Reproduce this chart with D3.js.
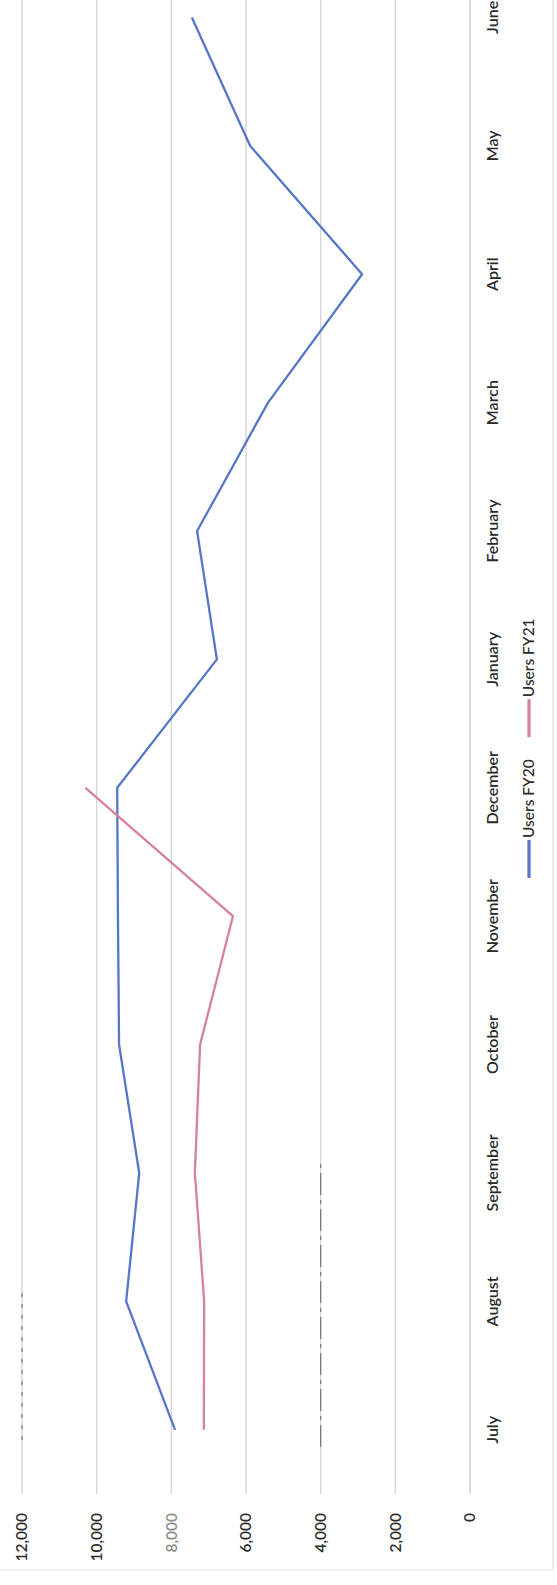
<!DOCTYPE html>
<html>
<head>
<meta charset="utf-8">
<script src="https://cdn.jsdelivr.net/npm/d3@7"></script>
<style>
  html, body { margin: 0; padding: 0; background: #fff; }
  svg { display: block; }
  text { font-family: Lato, "Open Sans", "Noto Sans", sans-serif; }
</style>
</head>
<body>
<script>
// Monthly users, financial year July–June
const months = ["July", "August", "September", "October", "November", "December",
                "January", "February", "March", "April", "May", "June"];
const usersFY20 = [7900, 9210, 8860, 9400, 9430, 9450, 6780, 7310, 5410, 2890, 5890, 7450];
const usersFY21 = [7130, 7120, 7370, 7230, 6350, 10300];   // July–December so far
const valueTicks = [0, 2000, 4000, 6000, 8000, 10000, 12000];
const seriesNames = ["Users FY20", "Users FY21"];
const seriesColors = ["#5676c8", "#d7819b"];

const pageW = 557, pageH = 1585;
// The chart is laid out landscape (W x H) and turned a quarter turn onto the page.
const W = pageH, H = pageW;

const svg = d3.select("body").append("svg")
  .attr("width", pageW).attr("height", pageH);
const g = svg.append("g")
  .attr("transform", `translate(0,${pageH}) rotate(-90)`);

const plotLeft = 91, band = 128.4;
const x = d3.scaleBand().domain(months).range([plotLeft, plotLeft + band * months.length]);
const y = d3.scaleLinear().domain([0, 12000]).range([470, 22]);
const cx = m => x(m) + x.bandwidth() / 2;

// chart area border (right/bottom edges visible)
g.append("line").attr("x1", 15).attr("x2", W + 10).attr("y1", 553).attr("y2", 553)
  .attr("stroke", "#e2e2e2").attr("stroke-width", 1.5);
g.append("line").attr("x1", 15).attr("x2", 15).attr("y1", 0).attr("y2", 553)
  .attr("stroke", "#ececec").attr("stroke-width", 1.5);

// horizontal gridlines
g.append("g").selectAll("line").data(valueTicks.filter(d => d > 0)).join("line")
  .attr("x1", plotLeft).attr("x2", W + 60)
  .attr("y1", d => y(d)).attr("y2", d => y(d))
  .attr("stroke", "#d6d6d6").attr("stroke-width", 1.4);

// scanner streaks over two gridlines
const streaks = [{v: 12000, a: 145, b: 292, dash: "4,7"}, {v: 4000, a: 138, b: 425, dash: "22,5,4,5"}];
g.append("g").selectAll("line").data(streaks).join("line")
  .attr("x1", d => d.a).attr("x2", d => d.b)
  .attr("y1", d => y(d.v)).attr("y2", d => y(d.v))
  .attr("stroke", "#555").attr("stroke-width", 1.1)
  .attr("stroke-dasharray", d => d.dash).attr("opacity", 0.8);

// value axis labels
const yAxis = g.append("g").attr("transform", `translate(${plotLeft},0)`)
  .call(d3.axisLeft(y).tickValues(valueTicks).tickFormat(d3.format(","))
        .tickSize(0).tickPadding(19));
yAxis.select(".domain").remove();
yAxis.selectAll("text")
  .attr("font-size", 15.5).attr("font-weight", 600)
  .attr("fill", d => d === 8000 ? "#8a8a8a" : "#2a2a2a")
  .style("font-family", "Lato, 'Open Sans', sans-serif");

// category axis
const xAxis = g.append("g").attr("transform", `translate(0,${y(0)})`)
  .call(d3.axisBottom(x).tickSize(0).tickSizeOuter(0));
xAxis.select(".domain").attr("stroke", "#cfcfcf").attr("stroke-width", 1.5)
  .attr("d", `M${plotLeft},0H${W + 60}`);
xAxis.selectAll("text")
  .attr("y", 22).attr("dy", "0.35em")
  .attr("font-size", 16).attr("font-weight", 600).attr("fill", "#2a2a2a")
  .style("font-family", "Lato, 'Open Sans', sans-serif");

// series lines
const line = d3.line().x((d, i) => cx(months[i])).y(d => y(d));
[usersFY20, usersFY21].forEach((vals, i) => {
  g.append("path").datum(vals)
    .attr("fill", "none")
    .attr("stroke", seriesColors[i])
    .attr("stroke-width", 2.3)
    .attr("stroke-linejoin", "round")
    .attr("d", line);
});

// legend
const legend = g.append("g").attr("transform", "translate(707,529)");
let off = 0;
seriesNames.forEach((name, i) => {
  const item = legend.append("g").attr("transform", `translate(${off},0)`);
  item.append("line").attr("x1", 0).attr("x2", 38).attr("y1", 0).attr("y2", 0)
    .attr("stroke", seriesColors[i]).attr("stroke-width", 3.2);
  const t = item.append("text").attr("x", 40).attr("y", 0).attr("dy", "0.35em")
    .attr("font-size", 15.5).attr("font-weight", 500).attr("fill", "#2a2a2a")
    .text(name);
  off += 40 + t.node().getComputedTextLength() + 22;
});
</script>
</body>
</html>
